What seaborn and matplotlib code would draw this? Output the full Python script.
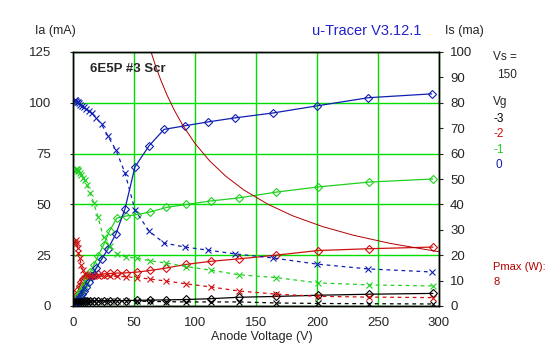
import matplotlib
matplotlib.use("Agg")
import matplotlib.pyplot as plt
import seaborn as sns

# anode voltage steps (V); the Vg=0 sweep reads a bit lower (drop over the tube current)
va = [2, 2.5, 3, 3.7, 4.5, 5.5, 6.7, 8, 9.7, 11.7, 14, 17, 20.5, 25, 30, 36,
      43.5, 52.5, 63.5, 76.5, 93, 113, 136, 166, 201, 243, 295]
va_vg0 = [1.5, 2, 2.5, 3.2, 4, 5, 6, 7.3, 8.8, 10.7, 13, 15.8, 19, 23.5, 28.5, 35.2,
          42.6, 50.8, 62.3, 74.6, 91.8, 110.7, 133, 164, 200, 242, 294]

# anode current Ia (mA), left axis
ia_m3 = [0.5, 1.2, 1.7, 2, 2.2, 2.3, 2.4, 2.4, 2.5, 2.5, 2.5, 2.5, 2.6, 2.6, 2.6, 2.7,
         2.7, 2.8, 2.9, 3.0, 3.2, 3.6, 4.3, 4.7, 5.3, 5.8, 6.2]
ia_m2 = [1, 2, 4, 6, 8, 10, 12, 13.5, 14.5, 15, 15.2, 15.4, 15.6, 15.8, 16, 16.2,
         16.3, 16.7, 17.5, 18.7, 20.5, 22, 23.2, 25, 27.3, 28.2, 29]
ia_m1 = [0.5, 1.2, 2, 3.5, 5, 6.3, 7.3, 9, 11, 13.5, 16.5, 20, 24.5, 30, 37, 43.3,
         44.3, 45, 46.3, 48.5, 50, 51.7, 53.2, 56, 58.6, 61, 62.5]
ia_0 = [0.3, 0.7, 1.2, 1.8, 2.6, 3.6, 4.6, 6, 7.6, 9.5, 12, 15, 18.5, 23, 28, 35.5,
        47.8, 68.5, 78.8, 86.9, 88.7, 90.6, 92.6, 95, 98.5, 102.5, 104.4]

# screen current Is (mA), right axis
is_m3 = [1.5, 1.8, 2, 2, 2.1, 2.1, 2.1, 2, 2, 2, 2, 2, 2, 2, 2, 2,
         2, 1.9, 1.8, 1.7, 1.6, 1.6, 1.6, 1.2, 1, 0.9, 0.8]
is_m2 = [25, 26, 25, 23, 21, 19, 16, 14, 12.5, 12, 12, 11.9, 11.8, 11.8, 11.8, 11.7,
         11.5, 11.2, 10.6, 9.8, 8.7, 7.5, 5.9, 4.7, 3.8, 3.5, 3.3]
is_m1 = [53, 54, 54, 53.5, 53, 52.5, 51.5, 50.5, 49.5, 47.5, 44.5, 40.5, 35, 27, 23.5, 20.5,
         19.3, 18.8, 17.8, 16.9, 15.5, 14.1, 12.3, 11.2, 9.1, 8.3, 7.9]
is_0 = [81, 81, 80.8, 80.5, 80.2, 79.8, 79.3, 78.8, 78.2, 77.6, 76.8, 75.8, 74, 71.5, 67, 61.4,
        52.4, 37.8, 29.5, 24.8, 23.2, 22, 20.5, 18.9, 16.5, 14.6, 13.4]

# Pmax = 8 W limit curve
va_pmax = [64, 68, 72, 77, 83, 90, 100, 112, 125, 140, 160, 180, 205, 230, 260, 300]
ia_pmax = [125, 117.6, 111.1, 103.9, 96.4, 88.9, 80, 71.4, 64, 57.1, 50, 44.4, 39, 34.8, 30.8, 26.7]

vg_labels = ["-3", "-2", "-1", "0"]
colors = ["black", "#d01010", "#20d020", "#1020b0"]

sns.set_style("white")
plt.rcParams['font.family'] = ['Liberation Sans', 'DejaVu Sans']
plt.rcParams['font.size'] = 9

fig = plt.figure(figsize=(5.47, 3.57), dpi=100)
ax = fig.add_axes([73 / 547, 1 - 306 / 357, 366 / 547, 254 / 357])
ax2 = ax.twinx()

curves = [(va, ia_m3, is_m3), (va, ia_m2, is_m2), (va, ia_m1, is_m1), (va_vg0, ia_0, is_0)]
for (x, ia, isc), col in zip(curves, colors):
    sns.lineplot(x=x, y=ia, ax=ax, color=col, marker="D", ms=3.8, mfc="none", mec=col,
                 mew=0.8, lw=0.9, estimator=None, sort=False)
    sns.lineplot(x=x, y=isc, ax=ax2, color=col, marker="x", ms=4, mec=col,
                 mew=0.8, lw=0.9, ls=(0, (3, 3)), estimator=None, sort=False)

sns.lineplot(x=va_pmax, y=ia_pmax, ax=ax, color="#b00000", lw=0.7, estimator=None, sort=False)

ax.set_xlim(0, 300)
ax.set_ylim(0, 125)
ax2.set_ylim(0, 100)
ax.set_xticks(range(0, 301, 50))
ax.set_yticks(range(0, 126, 25))
ax2.set_yticks(range(0, 101, 10))
ax.grid(True, color="#00dd00", lw=1)
ax.set_axisbelow(True)
ax.set_xlabel("")
ax.set_ylabel("")
ax2.set_ylabel("")
for a in (ax, ax2):
    for s in a.spines.values():
        s.set_color("black")
        s.set_linewidth(1)
ax.tick_params(axis="y", length=2, pad=14, labelsize=9.5)
ax.tick_params(axis="x", length=2, pad=6, labelsize=9.5)
ax2.tick_params(axis="y", length=3, pad=5, labelsize=9.5)

ax.text(0.046, 0.933, "6E5P #3 Scr", transform=ax.transAxes, fontsize=9.5,
        fontweight="bold", va="center")

fig.text(35 / 547, 1 - 31 / 357, "Ia (mA)", va="center", fontsize=9)
fig.text(445 / 547, 1 - 31 / 357, "Is (ma)", va="center", fontsize=9)
fig.text(367 / 547, 1 - 31 / 357, "u-Tracer V3.12.1", ha="center", va="center",
         color="#2323c8", fontsize=10.5)
fig.text(262 / 547, 1 - 337 / 357, "Anode Voltage (V)", ha="center", va="center", fontsize=9)

fig.text(493 / 547, 1 - 57 / 357, "Vs =", va="center", fontsize=8.5)
fig.text(497 / 547, 1 - 75 / 357, "150", va="center", fontsize=8.5)
fig.text(493 / 547, 1 - 102 / 357, "Vg", va="center", fontsize=8.5)
for i, (lab, col) in enumerate(zip(vg_labels, colors)):
    fig.text((493 if i < 3 else 496) / 547, 1 - (119 + 15.4 * i) / 357, lab,
             va="center", color=col, fontsize=8.5)
fig.text(493 / 547, 1 - 267 / 357, "Pmax (W):", va="center", color="#b00000", fontsize=8)
fig.text(493 / 547, 1 - 282 / 357, "8", va="center", color="#b00000", fontsize=8)

fig.savefig("out.png", dpi=100)
